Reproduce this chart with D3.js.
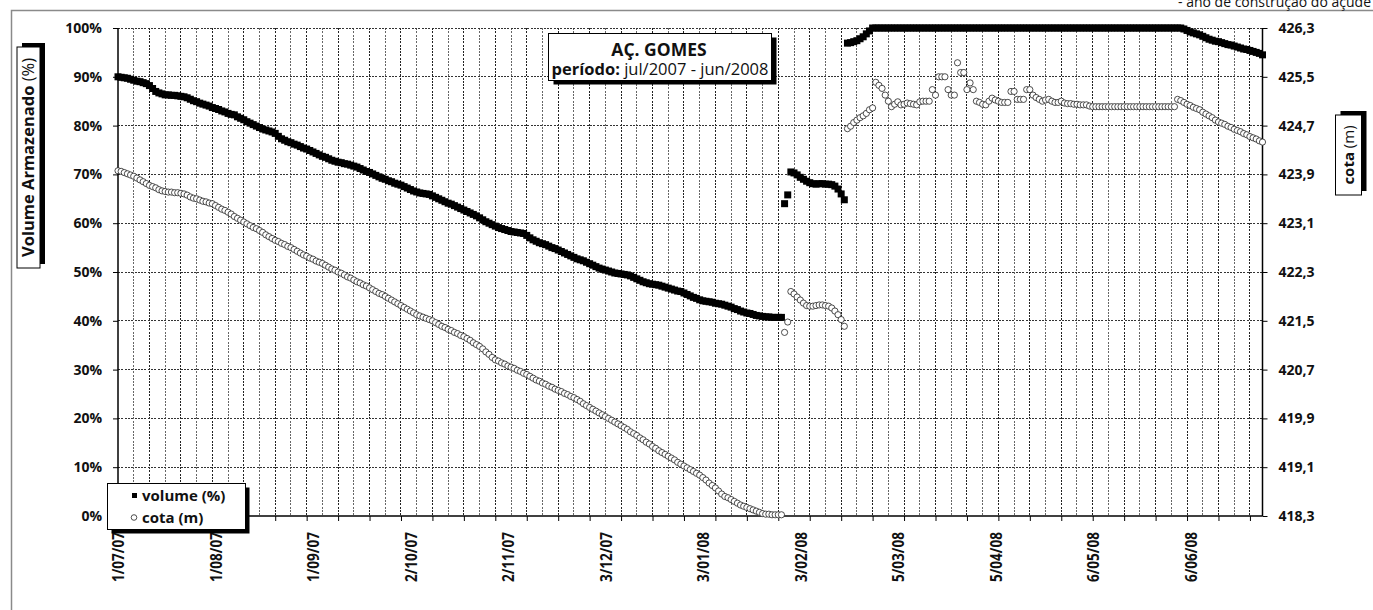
<!DOCTYPE html>
<html><head><meta charset="utf-8">
<script src="https://cdn.jsdelivr.net/npm/d3@7"></script>
<style>
body{margin:0;background:#fff}
svg{display:block}
text{font-family:"Open Sans","Noto Sans",Lato,sans-serif;fill:#111}
</style>
</head><body>
<svg id="chart" width="1373" height="610"></svg>
<script>
// ---------------- DATA ----------------
const startDate = "2007-07-01";           // first day of the series (one value per day)
const endDate = "2008-06-29";             // last day on the axis
const volume = [
90.0,89.9,89.8,89.7,89.5, 89.3,89.1,89.0,88.8,88.6, 88.2,87.6,87.0,86.7,86.5, 86.3,86.3,86.2,86.2,86.1,
86.0,85.9,85.7,85.4,85.1, 84.9,84.6,84.4,84.2,84.0, 83.7,83.5,83.3,83.0,82.8, 82.5,82.3,82.2,81.8,81.5,
81.2,80.8,80.5,80.2,79.9, 79.6,79.3,79.1,78.9,78.7, 78.4,77.8,77.3,77.0,76.7, 76.5,76.2,76.0,75.7,75.4,
75.2,74.9,74.6,74.3,74.0, 73.7,73.5,73.2,72.9,72.7, 72.5,72.4,72.2,72.1,71.9, 71.7,71.5,71.2,70.9,70.6,
70.4,70.1,69.8,69.5,69.2, 69.0,68.7,68.5,68.2,68.0, 67.8,67.5,67.2,66.9,66.6, 66.4,66.2,66.1,66.0,65.9,
65.6,65.3,65.0,64.7,64.4, 64.1,63.9,63.6,63.3,63.0, 62.7,62.4,62.1,61.8,61.5, 61.1,60.7,60.3,60.0,59.7,
59.4,59.1,58.9,58.7,58.5, 58.3,58.2,58.1,58.0,57.9, 57.5,57.0,56.6,56.3,56.0, 55.8,55.6,55.3,55.0,54.8,
54.5,54.2,53.9,53.6,53.3, 53.0,52.7,52.5,52.3,52.0, 51.7,51.4,51.1,50.8,50.6, 50.4,50.2,50.0,49.8,49.7,
49.6,49.5,49.4,49.2,48.9, 48.6,48.3,48.0,47.8,47.6, 47.5,47.4,47.3,47.1,46.9, 46.7,46.5,46.3,46.1,46.0,
45.7,45.4,45.1,44.8,44.6, 44.3,44.1,44.0,43.9,43.8, 43.6,43.5,43.4,43.2,43.0, 42.8,42.5,42.3,42.0,41.8,
41.6,41.5,41.3,41.1,41.0, 40.9,40.8,40.8,40.7,40.7, 40.7,40.7,
64.0,65.8,
70.5,70.3,69.9,69.4,69.0,68.6,68.3,68.1,68.0,68.1,68.1,68.0,68.0,67.9,67.6,67.0,66.0,64.8,
96.9,97.0,97.2,97.4,97.8,98.2,98.8,99.4,
100,100,100,100,100,100,100,100,100,100, 100,100,100,100,100,100,100,100,100,100,
100,100,100,100,100,100,100,100,100,100, 100,100,100,100,100,100,100,100,100,100,
100,100,100,100,100,100,100,100,100,100, 100,100,100,100,100,100,100,100,100,100,
100,100,100,100,100,100,100,100,100,100, 100,100,100,100,100,100,100,100,100,100,
100,100,100,100,100,100,100,100,100,100, 100,100,100,100,100,100,100,100,100,
99.8,99.5,99.2,99.0,98.8,98.6,98.3,98.0,97.7,97.5,97.3,97.2,97.0,96.8,96.6,96.5,96.3,96.1,95.9,95.7,
95.6,95.4,95.2,95.0,94.8,94.5
];
const cota = [
423.96,423.95,423.93,423.91,423.89, 423.87,423.84,423.81,423.78,423.75, 423.72,423.70,423.68,423.65,423.63,
423.62,423.61,423.61,423.60,423.60, 423.59,423.58,423.56,423.53,423.51, 423.50,423.48,423.46,423.45,423.43,
423.42,423.39,423.36,423.33,423.31, 423.28,423.25,423.21,423.18,423.15, 423.12,423.09,423.06,423.03,423.01,
422.98,422.95,422.91,422.88,422.85, 422.82,422.80,422.77,422.75,422.72, 422.70,422.67,422.64,422.61,422.58,
422.56,422.53,422.51,422.48,422.46, 422.44,422.41,422.38,422.35,422.33, 422.30,422.28,422.25,422.22,422.20,
422.17,422.14,422.12,422.09,422.07, 422.04,422.01,421.98,421.95,421.93, 421.90,421.87,421.84,421.81,421.78,
421.75,421.72,421.69,421.66,421.63, 421.60,421.58,421.56,421.54,421.52, 421.50,421.47,421.44,421.41,421.39,
421.36,421.34,421.31,421.29,421.26, 421.24,421.21,421.18,421.14,421.11, 421.08,421.04,420.99,420.95,420.90,
420.86,420.84,420.81,420.79,420.76, 420.74,420.72,420.69,420.67,420.64, 420.62,420.59,420.56,420.53,420.51,
420.48,420.46,420.43,420.41,420.38, 420.36,420.34,420.31,420.29,420.26, 420.24,420.21,420.18,420.14,420.11,
420.08,420.05,420.02,419.99,419.96, 419.93,419.90,419.87,419.84,419.81, 419.78,419.75,419.72,419.68,419.65,
419.62,419.58,419.55,419.51,419.48, 419.44,419.41,419.37,419.34,419.31, 419.28,419.25,419.22,419.18,419.15,
419.12,419.09,419.06,419.03,419.00, 418.97,418.93,418.89,418.84,418.80, 418.76,418.71,418.66,418.62,418.60,
418.57,418.54,418.51,418.48,418.46, 418.44,418.42,418.40,418.38,418.36, 418.34,418.33,418.33,418.32,418.32,
418.32,418.32,
421.31,421.48,
421.98,421.94,421.89,421.84,421.79,421.75,421.74,421.74,421.75,421.76,421.76,421.75,421.74,421.71,421.66,421.60,421.52,421.41,
424.65,424.69,424.75,424.79,424.83,424.86,424.90,424.96,424.99,425.41,
425.36,425.31,425.20,425.10,425.01,425.05,425.09,425.04,425.05,425.07,
425.06,425.05,425.04,425.09,425.10,425.10,425.10,425.29,425.20,425.50,
425.50,425.50,425.29,425.20,425.20,425.73,425.57,425.57,425.29,425.40,
425.29,425.10,425.08,425.05,425.04,425.10,425.15,425.12,425.10,425.08,
425.08,425.08,425.26,425.26,425.13,425.13,425.13,425.29,425.29,425.20,
425.16,425.13,425.10,425.12,425.13,425.10,425.08,425.08,425.10,425.07,
425.06,425.06,425.05,425.05,425.04,425.04,425.04,425.02,
425.01,425.01,425.01,425.01,425.01,425.01,425.01,425.01,425.01,425.01,
425.01,425.01,425.01,425.01,425.01,425.01,425.01,425.01,425.01,425.01,
425.01,425.01,425.01,425.01,425.01,425.01,425.01,
425.13,425.11,425.08,425.05,425.03,425.00,424.98,424.96,424.92,424.89,
424.86,424.83,424.79,424.76,424.74,424.72,424.69,424.67,424.64,424.62,
424.60,424.57,424.55,424.52,424.50,424.48,424.45,424.43
];
const xTickLabels = ["1/07/07","1/08/07","1/09/07","2/10/07","2/11/07","3/12/07","3/01/08","3/02/08","5/03/08","5/04/08","6/05/08","6/06/08"];
const volumeTicks = [0,10,20,30,40,50,60,70,80,90,100];
const cotaTicks = [418.3,419.1,419.9,420.7,421.5,422.3,423.1,423.9,424.7,425.5,426.3];
const chartTitle = "AÇ. GOMES";
const periodLabel = "período:";
const periodText = " jul/2007 - jun/2008";
const leftTitle = ["Volume Armazenado", " (%)"];
const rightTitle = ["cota", " (m)"];
const legendLabels = ["volume (%)", "cota (m)"];
const noteText = "- ano de construção do açude";

// ---------------- CHART ----------------
const svg = d3.select("#chart");
const parseISO = d3.utcParse("%Y-%m-%d");
const parseTick = d3.utcParse("%d/%m/%y");
const t0 = parseISO(startDate), t1 = parseISO(endDate);
const L = 118, R = 1262.5, T = 28, B = 516;

const x = d3.scaleUtc().domain([t0, t1]).range([L, R]);
const yV = d3.scaleLinear().domain([0, 100]).range([B, T]);
const yC = d3.scaleLinear().domain([cotaTicks[0], cotaTicks[cotaTicks.length-1]]).range([B, T]);

const dayDate = i => d3.utcDay.offset(t0, i);
const totalDays = d3.utcDay.count(t0, t1);

// outer frame
svg.append("path").attr("d", `M11.5,611 L11.5,10.5 L1375,10.5`).attr("fill","none").attr("stroke","#8a8a8a").attr("stroke-width",1.5);

// note text (cut at top, as in the source)
svg.append("text").attr("x",1371).attr("y",6.5).attr("text-anchor","end")
  .style("font-size","14px").text(noteText);

// gridlines
const grid = svg.append("g");
const vDays = d3.range(5, totalDays + 1, 5);
grid.selectAll("line.v").data(vDays).join("line")
  .attr("x1", d => x(dayDate(d))).attr("x2", d => x(dayDate(d)))
  .attr("y1", T).attr("y2", B)
  .attr("stroke", d => d % 10 === 0 ? "#222" : "#666")
  .attr("stroke-width", 1).attr("stroke-dasharray", "2,1.3")
  .attr("shape-rendering","crispEdges");
grid.selectAll("line.h").data(volumeTicks.slice(1)).join("line")
  .attr("x1", L).attr("x2", R).attr("y1", d => yV(d)).attr("y2", d => yV(d))
  .attr("stroke", "#333").attr("stroke-width", 1).attr("stroke-dasharray", "2,1.3")
  .attr("shape-rendering","crispEdges");

// axes
const fmtPct = d => d + "%";
const axL = svg.append("g").attr("transform", `translate(${L},0)`)
  .call(d3.axisLeft(yV).tickValues(volumeTicks).tickFormat(fmtPct).tickSize(5).tickPadding(11));
const axR = svg.append("g").attr("transform", `translate(${R},0)`)
  .call(d3.axisRight(yC).tickValues(cotaTicks).tickFormat(d => d3.format(".1f")(d).replace(".", ",")).tickSize(5).tickPadding(11));
const tickDates = d3.range(0, totalDays + 1, 10).map(dayDate);
const axB = svg.append("g").attr("transform", `translate(0,${B})`)
  .call(d3.axisBottom(x).tickValues(tickDates).tickFormat("").tickSize(5));
const labelDates = xTickLabels.map(s => parseTick(s));
const axBL = svg.append("g").attr("transform", `translate(0,${B})`)
  .call(d3.axisBottom(x).tickValues(labelDates).tickFormat((d, i) => xTickLabels[i]).tickSize(0));
axBL.select(".domain").remove();
axBL.selectAll("text").attr("transform", "rotate(-90)").attr("text-anchor", "end")
  .attr("x", -16).attr("y", 0).attr("dy", "0.36em")
  .style("font-size", "16.5px").style("font-weight", "700").attr("textLength", 50).attr("lengthAdjust","spacingAndGlyphs");

[axL, axR, axB].forEach(a => {
  a.select(".domain").attr("stroke", "#000").attr("stroke-width", 1.5);
  a.selectAll(".tick line").attr("stroke", "#000").attr("stroke-width", 1);
});
axR.select(".domain").attr("d", `M0,${T}V${B}`);
axL.select(".domain").attr("d", `M0,${T}V${B}`);
axB.select(".domain").attr("d", `M${L},0H${R}`);
axL.selectAll("text").style("font-size", "14px").style("font-weight", "700");
axR.selectAll("text").style("font-size", "14px").style("font-weight", "700");

// series
const volPts = volume.map((v, i) => ({d: dayDate(i), v}));
const cotPts = cota.map((v, i) => ({d: dayDate(i), v}));
svg.append("g").selectAll("rect").data(volPts).join("rect")
  .attr("x", p => x(p.d) - 3.5).attr("y", p => yV(p.v) - 3.5)
  .attr("width", 7).attr("height", 7).attr("fill", "#000");
svg.append("g").selectAll("circle").data(cotPts).join("circle")
  .attr("cx", p => x(p.d)).attr("cy", p => yC(p.v)).attr("r", 3.1)
  .attr("fill", "#fff").attr("stroke", "#222").attr("stroke-width", 0.8);

// boxes with hard shadow
function box(g, bx, by, w, h, sh) {
  g.append("rect").attr("x", bx + sh[0]).attr("y", by + sh[1]).attr("width", w).attr("height", h).attr("fill", "#000");
  g.append("rect").attr("x", bx).attr("y", by).attr("width", w).attr("height", h)
    .attr("fill", "#fff").attr("stroke", "#000").attr("stroke-width", 1);
}
const tg = svg.append("g");
box(tg, 548.5, 33.5, 223, 47, [5, 4]);
tg.append("text").attr("x", 659).attr("y", 55.5).attr("text-anchor", "middle")
  .style("font-size", "17.5px").style("font-weight", "700").text(chartTitle);
const t2 = tg.append("text").attr("x", 660).attr("y", 74.5).attr("text-anchor", "middle").style("font-size", "16.5px");
t2.append("tspan").style("font-weight", "700").text(periodLabel);
t2.append("tspan").text(periodText);

// legend
const lg = svg.append("g");
box(lg, 107.5, 483.5, 138, 46, [4, 4]);
lg.append("rect").attr("x", 132).attr("y", 493).attr("width", 5).attr("height", 5).attr("fill", "#000");
lg.append("text").attr("x", 142).attr("y", 500.5).style("font-size", "15px").style("font-weight", "700").text(legendLabels[0]);
lg.append("circle").attr("cx", 134).attr("cy", 517.5).attr("r", 2.8).attr("fill", "#fff").attr("stroke", "#222").attr("stroke-width", 0.8);
lg.append("text").attr("x", 142).attr("y", 522.5).style("font-size", "15px").style("font-weight", "700").text(legendLabels[1]);

// rotated axis titles
function vTitle(cx, cy, len, thick, parts, fs) {
  const g = svg.append("g").attr("transform", `translate(${cx},${cy}) rotate(-90)`);
  box(g, -len / 2, -thick / 2, len, thick, [4, 5]);
  const t = g.append("text").attr("x", 0).attr("y", 0).attr("dy", "0.36em").attr("text-anchor", "middle").style("font-size", fs + "px");
  t.append("tspan").style("font-weight", "700").text(parts[0]);
  t.append("tspan").text(parts[1]);
}
vTitle(28.5, 157.5, 221, 23, leftTitle, 16.5);
vTitle(1348.5, 155, 80, 26, rightTitle, 15);
</script>
</body></html>
